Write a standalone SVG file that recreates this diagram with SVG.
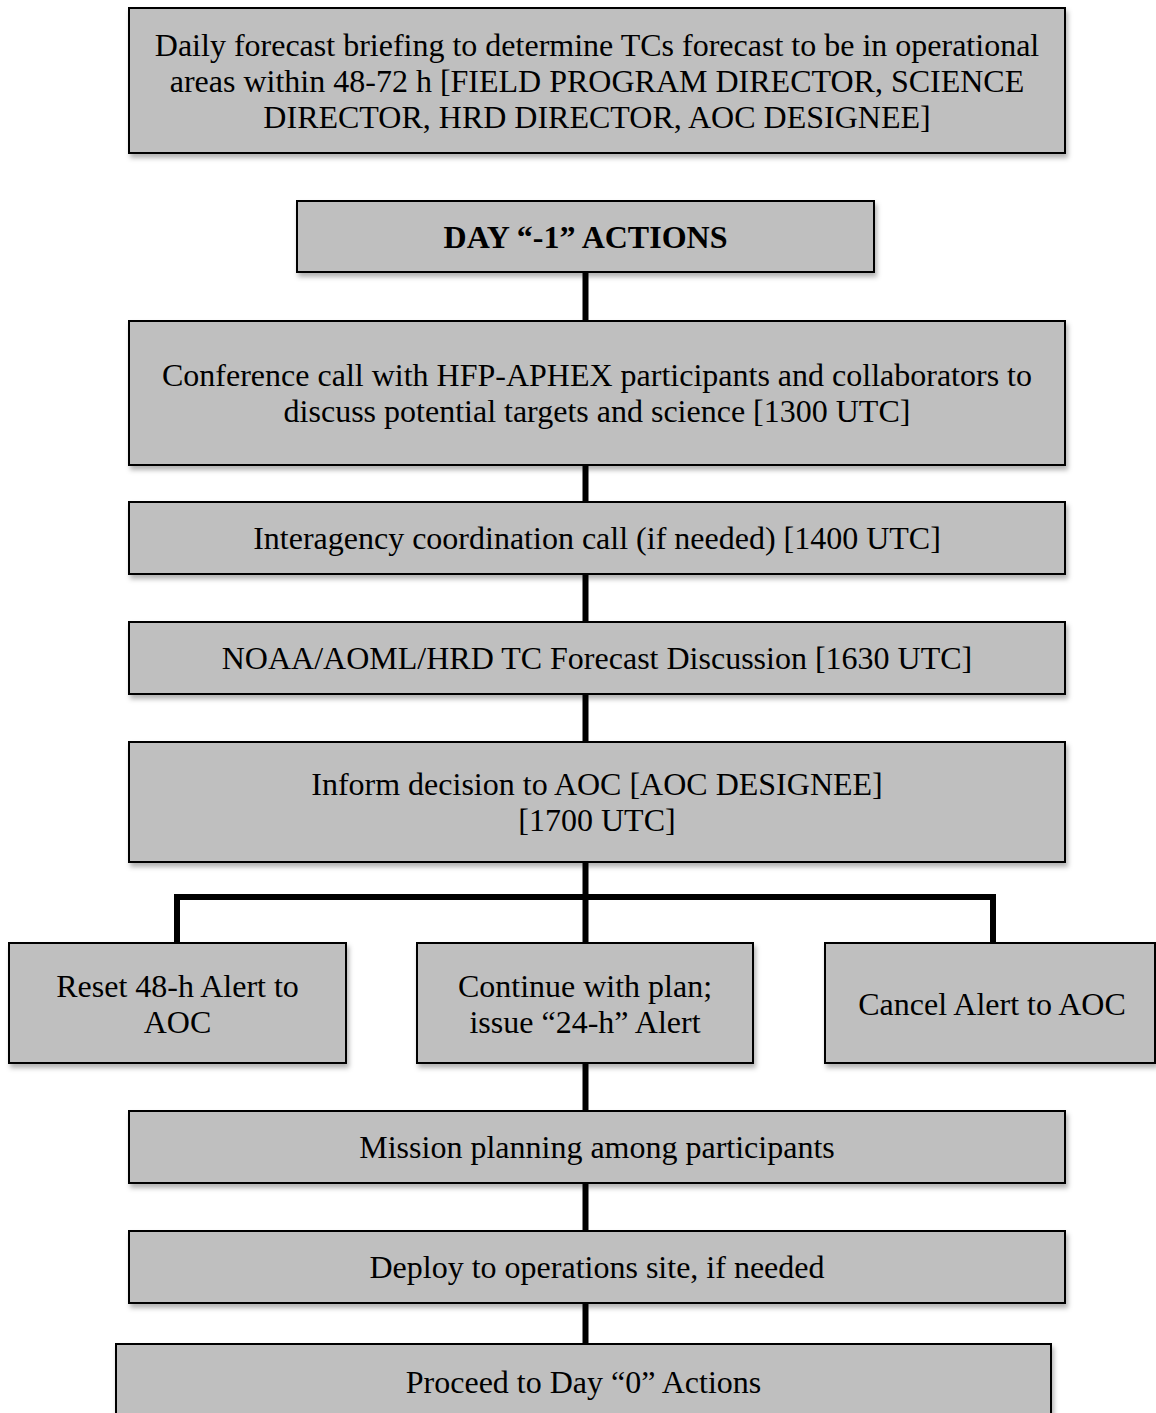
<svg xmlns="http://www.w3.org/2000/svg" width="1156" height="1413" viewBox="0 0 1156 1413">
<style>
.box{fill:#bfbfbf;stroke:#000;stroke-width:2;filter:url(#sh)}
.t{font-family:"Liberation Serif","Times New Roman",serif;font-size:32px;fill:#000;text-anchor:middle}
.b{font-weight:bold}
.c{fill:none;stroke:#000;stroke-width:6;stroke-linejoin:miter}
</style>
<defs>
<filter id="sh" x="-5%" y="-10%" width="110%" height="130%">
<feDropShadow dx="2" dy="4" stdDeviation="2.5" flood-color="#000" flood-opacity="0.3"/>
</filter>
</defs>
<rect width="1156" height="1413" fill="#fff"/>
<g id="connectors">
<line class="c" x1="585.5" y1="273" x2="585.5" y2="321"/>
<line class="c" x1="585.5" y1="465" x2="585.5" y2="502"/>
<line class="c" x1="585.5" y1="574" x2="585.5" y2="622"/>
<line class="c" x1="585.5" y1="694" x2="585.5" y2="742"/>
<line class="c" x1="585.5" y1="862" x2="585.5" y2="943"/>
<polyline class="c" points="177,943 177,897 993,897 993,943"/>
<line class="c" x1="585.5" y1="1063" x2="585.5" y2="1111"/>
<line class="c" x1="585.5" y1="1183" x2="585.5" y2="1231"/>
<line class="c" x1="585.5" y1="1303" x2="585.5" y2="1344"/>
</g>
<g id="n1">
<rect class="box" x="129" y="8" width="936" height="145"/>
<text class="t" x="597" y="56">Daily forecast briefing to determine TCs forecast to be in operational</text>
<text class="t" x="597" y="92">areas within 48-72 h [FIELD PROGRAM DIRECTOR, SCIENCE</text>
<text class="t" x="597" y="128">DIRECTOR, HRD DIRECTOR, AOC DESIGNEE]</text>
</g>
<g id="n2">
<rect class="box" x="297" y="201" width="577" height="71"/>
<text class="t b" x="585.5" y="248">DAY “-1” ACTIONS</text>
</g>
<g id="n3">
<rect class="box" x="129" y="321" width="936" height="144"/>
<text class="t" x="597" y="386">Conference call with HFP-APHEX participants and collaborators to</text>
<text class="t" x="597" y="422">discuss potential targets and science [1300 UTC]</text>
</g>
<g id="n4">
<rect class="box" x="129" y="502" width="936" height="72"/>
<text class="t" x="597" y="549">Interagency coordination call (if needed) [1400 UTC]</text>
</g>
<g id="n5">
<rect class="box" x="129" y="622" width="936" height="72"/>
<text class="t" x="597" y="669">NOAA/AOML/HRD TC Forecast Discussion [1630 UTC]</text>
</g>
<g id="n6">
<rect class="box" x="129" y="742" width="936" height="120"/>
<text class="t" x="597" y="795">Inform decision to AOC [AOC DESIGNEE]</text>
<text class="t" x="597" y="831">[1700 UTC]</text>
</g>
<g id="n7">
<rect class="box" x="9" y="943" width="337" height="120"/>
<text class="t" x="177.5" y="997">Reset 48-h Alert to</text>
<text class="t" x="177.5" y="1033">AOC</text>
</g>
<g id="n8">
<rect class="box" x="417" y="943" width="336" height="120"/>
<text class="t" x="585" y="997">Continue with plan;</text>
<text class="t" x="585" y="1033">issue “24-h” Alert</text>
</g>
<g id="n9">
<rect class="box" x="825" y="943" width="330" height="120"/>
<text class="t" x="992" y="1015">Cancel Alert to AOC</text>
</g>
<g id="n10">
<rect class="box" x="129" y="1111" width="936" height="72"/>
<text class="t" x="597" y="1158">Mission planning among participants</text>
</g>
<g id="n11">
<rect class="box" x="129" y="1231" width="936" height="72"/>
<text class="t" x="597" y="1278">Deploy to operations site, if needed</text>
</g>
<g id="n12">
<rect class="box" x="116" y="1344" width="935" height="90"/>
<text class="t" x="583.5" y="1393">Proceed to Day “0” Actions</text>
</g>
</svg>
